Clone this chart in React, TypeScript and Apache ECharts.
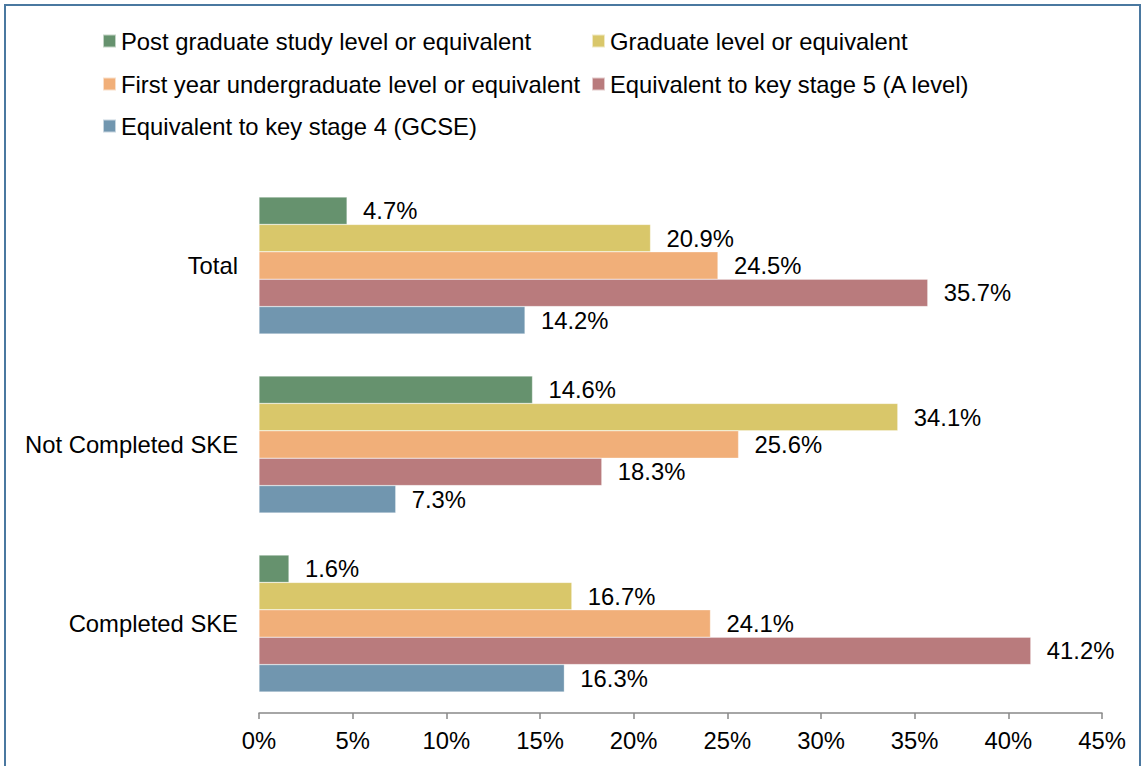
import React, { useEffect, useRef } from "react";
import * as echarts from "echarts";

const categories = ["Completed SKE", "Not Completed SKE", "Total"];
const seriesNames = [
  "Post graduate study level or equivalent",
  "Graduate level or equivalent",
  "First year undergraduate level or equivalent",
  "Equivalent to key stage 5 (A level)",
  "Equivalent to key stage 4 (GCSE)",
];
const seriesColors = ["#66926E", "#D9C76A", "#F1AF79", "#B97B7D", "#7196AF"];
// values ordered as categories: Completed SKE, Not Completed SKE, Total
const postGraduate = [1.6, 14.6, 4.7];
const graduate = [16.7, 34.1, 20.9];
const firstYear = [24.1, 25.6, 24.5];
const keyStage5 = [41.2, 18.3, 35.7];
const keyStage4 = [16.3, 7.3, 14.2];
const seriesValues = [postGraduate, graduate, firstYear, keyStage5, keyStage4];
const legendPositions = [
  { left: 102, top: 29 },
  { left: 591, top: 29 },
  { left: 102, top: 72 },
  { left: 591, top: 72 },
  { left: 102, top: 114 },
];

const FONT = "Liberation Sans, Arial, sans-serif";

export default function App() {
  const ref = useRef<HTMLDivElement>(null);
  useEffect(() => {
    const chart = echarts.init(ref.current!, null, { renderer: "svg" });
    const series = seriesNames.map((n, i) => ({
      name: n,
      type: "bar",
      data: seriesValues[i],
      barGap: "0%",
      barCategoryGap: "23.5%",
      itemStyle: { color: seriesColors[i], borderColor: "rgba(255,255,255,0.6)", borderWidth: 0.5 },
      label: {
        show: true,
        position: "right",
        distance: 16,
        formatter: (p: any) => p.value.toFixed(1) + "%",
        color: "#000",
        fontSize: 23.8,
        fontFamily: FONT,
      },
    }));
    const legends = seriesNames.map((n, i) => ({
      data: [n],
      left: legendPositions[i].left,
      top: legendPositions[i].top,
      padding: 0,
      itemWidth: 13,
      itemHeight: 13,
      icon: "rect",
      textStyle: { fontSize: 23.8, color: "#000", fontFamily: FONT },
      selectedMode: false,
    }));
    chart.setOption({
      animation: false,
      backgroundColor: "#fff",
      textStyle: { fontFamily: FONT },
      graphic: [
        {
          type: "rect",
          shape: { x: 5, y: 5, width: 1135, height: 820 },
          style: { fill: "none", stroke: "#4A78A0", lineWidth: 2 },
          silent: true,
        },
      ],
      legend: legends,
      grid: { left: 259, right: 41, top: 176, bottom: 53, containLabel: false },
      xAxis: {
        type: "value",
        min: 0,
        max: 45,
        interval: 5,
        splitLine: { show: false },
        axisLine: { show: true, lineStyle: { color: "#898989", width: 1.5 } },
        axisTick: { show: true, length: 6, lineStyle: { color: "#898989", width: 1.5 } },
        axisLabel: { formatter: "{value}%", fontSize: 23.8, color: "#000", margin: 15, fontFamily: FONT },
      },
      yAxis: {
        type: "category",
        data: categories,
        axisLine: { show: false },
        axisTick: { show: false },
        axisLabel: { fontSize: 23.8, color: "#000", margin: 21, fontFamily: FONT },
      },
      series,
    });
    return () => chart.dispose();
  }, []);
  return (
    <div
      ref={ref}
      style={{ position: "fixed", left: 0, top: 0, width: 1143, height: 766 }}
    />
  );
}
